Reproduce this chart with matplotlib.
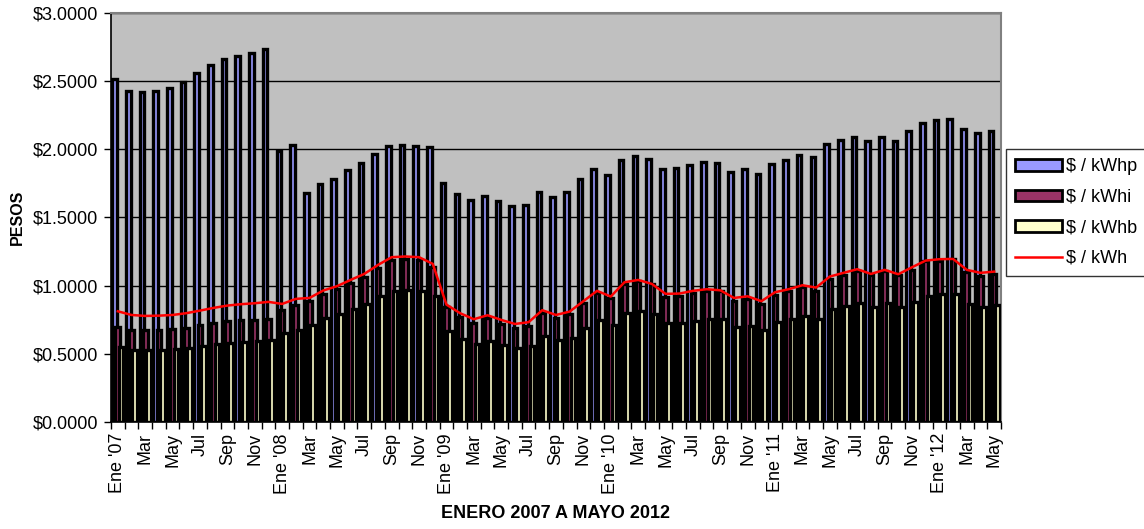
import numpy as np
import matplotlib
matplotlib.use("Agg")
import matplotlib.pyplot as plt
from matplotlib.ticker import FuncFormatter, FixedLocator

plt.rcParams['font.family'] = ['Liberation Sans', 'DejaVu Sans']

# meses ene 2007 - may 2012
meses = ["Ene", "Feb", "Mar", "Abr", "May", "Jun", "Jul", "Ago", "Sep", "Oct", "Nov", "Dic"]
anios = [2007, 2008, 2009, 2010, 2011, 2012]
etiquetas = []
for a in anios:
    for m in meses:
        etiquetas.append(f"Ene '{a % 100:02d}" if m == "Ene" else m)
etiquetas = etiquetas[:65]

kwhp = [2.513, 2.427, 2.422, 2.427, 2.447, 2.491, 2.557, 2.618, 2.662, 2.687, 2.706, 2.738,
        1.989, 2.031, 1.679, 1.745, 1.786, 1.847, 1.899, 1.965, 2.023, 2.031, 2.026, 2.016,
        1.752, 1.671, 1.625, 1.661, 1.622, 1.581, 1.593, 1.688, 1.654, 1.688, 1.786, 1.855,
        1.813, 1.921, 1.948, 1.928, 1.855, 1.860, 1.886, 1.904, 1.899, 1.835, 1.855, 1.820,
        1.891, 1.921, 1.958, 1.945, 2.036, 2.065, 2.087, 2.058, 2.090, 2.058, 2.134, 2.195,
        2.214, 2.222, 2.146, 2.121, 2.134]
kwhi = [0.700, 0.675, 0.673, 0.673, 0.680, 0.692, 0.712, 0.727, 0.739, 0.746, 0.751, 0.759,
        0.822, 0.861, 0.890, 0.940, 0.975, 1.020, 1.060, 1.130, 1.190, 1.195, 1.190, 1.140,
        0.847, 0.773, 0.724, 0.763, 0.719, 0.690, 0.707, 0.803, 0.763, 0.793, 0.876, 0.944,
        0.908, 1.013, 1.033, 1.013, 0.920, 0.925, 0.947, 0.964, 0.959, 0.886, 0.900, 0.866,
        0.935, 0.959, 0.988, 0.964, 1.047, 1.081, 1.106, 1.077, 1.106, 1.077, 1.116, 1.179,
        1.184, 1.194, 1.099, 1.074, 1.086]
kwhb = [0.548, 0.528, 0.528, 0.528, 0.533, 0.543, 0.558, 0.573, 0.582, 0.587, 0.592, 0.600,
        0.650, 0.678, 0.712, 0.761, 0.789, 0.831, 0.868, 0.921, 0.961, 0.968, 0.959, 0.921,
        0.664, 0.607, 0.570, 0.595, 0.565, 0.541, 0.555, 0.631, 0.600, 0.619, 0.690, 0.749,
        0.712, 0.800, 0.815, 0.793, 0.724, 0.727, 0.741, 0.759, 0.754, 0.697, 0.707, 0.675,
        0.734, 0.756, 0.778, 0.759, 0.827, 0.854, 0.876, 0.844, 0.873, 0.844, 0.883, 0.927,
        0.937, 0.937, 0.866, 0.847, 0.856]
kwh = [0.812, 0.785, 0.778, 0.780, 0.785, 0.798, 0.817, 0.837, 0.854, 0.864, 0.871, 0.881,
       0.866, 0.903, 0.910, 0.964, 0.996, 1.042, 1.086, 1.152, 1.209, 1.214, 1.209, 1.160,
       0.861, 0.798, 0.754, 0.783, 0.749, 0.719, 0.732, 0.820, 0.785, 0.810, 0.886, 0.962,
       0.920, 1.025, 1.042, 1.013, 0.940, 0.942, 0.962, 0.974, 0.966, 0.910, 0.922, 0.886,
       0.952, 0.974, 1.003, 0.986, 1.067, 1.094, 1.121, 1.086, 1.116, 1.084, 1.135, 1.184,
       1.194, 1.196, 1.116, 1.094, 1.103]

x = np.arange(len(etiquetas))

fig = plt.figure(figsize=(11.44, 5.29), dpi=100)
ax = fig.add_axes([0.097, 0.2023, 0.778, 0.7731])
ax.set_facecolor("#C0C0C0")

w = 0.34
kw = dict(width=w, edgecolor="black", linewidth=2.4)
b1 = ax.bar(x - 0.24, kwhp, color="#9999FF", label="$ / kWhp", zorder=2, **kw)
b2 = ax.bar(x, kwhi, color="#993366", label="$ / kWhi", zorder=3, **kw)
b3 = ax.bar(x + 0.24, kwhb, color="#FFFFCC", label="$ / kWhb", zorder=4, **kw)
l1, = ax.plot(x, kwh, color="#FF0000", linewidth=1.8, label="$ / kWh", zorder=5)

ax.set_xlim(-0.5, len(x) - 0.5)
ax.set_ylim(0, 3.0)
ax.set_yticks(np.arange(0, 3.01, 0.5))
ax.yaxis.set_major_formatter(FuncFormatter(lambda v, p: f"${v:.4f}"))
ax.grid(axis="y", color="black", linewidth=1.0, zorder=1)
ax.set_axisbelow(True)

# etiquetas cada dos meses, marcas entre categorias
ax.set_xticks(x[::2])
ax.set_xticklabels(etiquetas[::2], rotation=90, fontsize=13)
ax.xaxis.set_minor_locator(FixedLocator(np.arange(-0.5, len(x), 1.0)))
ax.tick_params(axis="x", which="major", length=0, pad=8)
ax.tick_params(axis="x", which="minor", length=5, width=1, color="black")
ax.tick_params(axis="y", length=5, width=1, labelsize=13, pad=4)

for s in ["top", "right"]:
    ax.spines[s].set_color("#808080")
    ax.spines[s].set_linewidth(1.5)
for s in ["left", "bottom"]:
    ax.spines[s].set_color("black")
    ax.spines[s].set_linewidth(1.2)

ax.set_ylabel("PESOS", fontsize=11.5, fontweight="bold", labelpad=6)
ax.set_xlabel("ENERO 2007 A MAYO 2012", fontsize=13, fontweight="bold", labelpad=8)

leg = fig.legend([b1, b2, b3, l1], ["$ / kWhp", "$ / kWhi", "$ / kWhb", "$ / kWh"],
                 loc="upper left", bbox_to_anchor=(0.879, 0.718), fontsize=13,
                 frameon=True, fancybox=False, edgecolor="black", borderpad=0.5,
                 labelspacing=0.75, handlelength=2.6, handleheight=0.6, handletextpad=0.25,
                 borderaxespad=0)
leg.get_frame().set_linewidth(1.0)
for h in leg.legend_handles[:3]:
    h.set_linewidth(2.0)

fig.savefig("out.png", dpi=100)
